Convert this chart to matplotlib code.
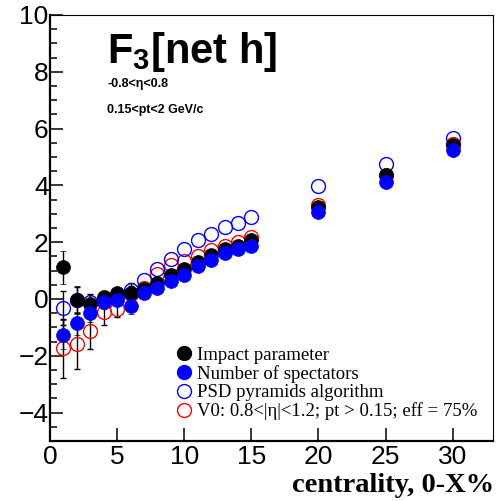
import matplotlib
matplotlib.use("Agg")
import matplotlib.pyplot as plt
import numpy as np
from matplotlib.ticker import MultipleLocator
from matplotlib.lines import Line2D

plt.rcParams['font.family'] = ['Liberation Sans', 'DejaVu Sans']
plt.rcParams['mathtext.fontset'] = 'custom'
plt.rcParams['mathtext.rm'] = 'Liberation Sans'
plt.rcParams['mathtext.bf'] = 'Liberation Sans:bold'

nan = float('nan')  # error bar hidden inside the marker (not readable)

centrality = [1, 2, 3, 4, 5, 6, 7, 8, 9, 10, 11, 12, 13, 14, 15, 20, 25, 30]

impact = [1.12, -0.03, -0.17, 0.06, 0.2, 0.2, 0.35, 0.55, 0.85, 1.05, 1.32, 1.55, 1.75, 1.87, 2.07, 3.25, 4.35, 5.42]
impact_err = [0.58, 0.5, 0.35, 0.22, 0.18, 0.15, 0.12, nan, nan, nan, nan, nan, nan, nan, nan, nan, nan, nan]

nspec = [-1.25, -0.86, -0.5, -0.1, -0.05, -0.23, 0.22, 0.38, 0.63, 0.85, 1.16, 1.39, 1.61, 1.75, 1.88, 3.05, 4.13, 5.24]
nspec_err = [0.5, 0.4, 0.3, 0.25, 0.2, 0.3, 0.12, nan, nan, nan, nan, nan, nan, nan, nan, nan, nan, nan]

psd = [-0.33, -0.03, -0.12, -0.03, 0.1, 0.31, 0.66, 1.04, 1.4, 1.77, 2.08, 2.28, 2.55, 2.68, 2.88, 3.98, 4.75, 5.66]
psd_err = [0.6, 0.45, 0.3, 0.3, 0.28, 0.26, nan, nan, nan, nan, nan, nan, nan, nan, nan, nan, nan, nan]

v0 = [-1.74, -1.6, -1.13, -0.45, -0.35, 0.18, 0.4, 0.88, 1.2, 1.33, 1.52, 1.73, 1.88, 2.0, 2.2, 3.3, 4.38, 5.46]
v0_err = [1.05, 0.85, 0.63, 0.47, 0.3, 0.28, nan, nan, nan, nan, nan, nan, nan, nan, nan, nan, nan, nan]

labels = ["Impact parameter", "Number of spectators", "PSD pyramids algorithm",
          "V0: 0.8<|\u03b7|<1.2; pt > 0.15; eff = 75%"]

fig = plt.figure(figsize=(4.97, 5.01), dpi=100)
ax = fig.add_axes([50/497, 60/501, 443/497, 426/501])

ms = 10
ekw = dict(ecolor='black', elinewidth=1.0, capsize=2, capthick=1.0, linestyle='none')
ax.errorbar(centrality, v0, yerr=np.array(v0_err), marker='o', ms=ms, mfc='none', mec='red', mew=1.0, **ekw, zorder=2)
ax.errorbar(centrality, psd, yerr=np.array(psd_err), marker='o', ms=ms, mfc='none', mec='blue', mew=1.0, **ekw, zorder=3)
ax.errorbar(centrality, impact, yerr=np.array(impact_err), marker='o', ms=ms, mfc='black', mec='black', mew=0.5, **ekw, zorder=4)
ax.errorbar(centrality, nspec, yerr=np.array(nspec_err), marker='o', ms=ms, mfc='blue', mec='blue', mew=0.5, **ekw, zorder=5)

ax.set_xlim(0, 33)
ax.set_ylim(-5, 10)
ax.xaxis.set_major_locator(MultipleLocator(5))
ax.yaxis.set_major_locator(MultipleLocator(2))
ax.yaxis.set_minor_locator(MultipleLocator(0.5))
ax.tick_params(axis='both', which='both', direction='in', top=False, right=False, labelsize=19, width=1.1)
ax.tick_params(axis='both', which='major', length=9.5)
ax.tick_params(axis='y', which='minor', length=5)
ax.tick_params(axis='y', pad=1)
ax.tick_params(axis='x', pad=3)
for s in ['left', 'bottom']:
    ax.spines[s].set_linewidth(1.6)
for s in ['top', 'right']:
    ax.spines[s].set_linewidth(0.8)

handles = [
    Line2D([], [], marker='o', ls='none', ms=ms, mfc='black', mec='black'),
    Line2D([], [], marker='o', ls='none', ms=ms, mfc='blue', mec='blue'),
    Line2D([], [], marker='o', ls='none', ms=ms, mfc='none', mec='blue', mew=1.0),
    Line2D([], [], marker='o', ls='none', ms=ms, mfc='none', mec='red', mew=1.0),
]
ax.legend(handles, labels, loc='upper left', bbox_to_anchor=(0.2845, 0.222), frameon=False,
          prop={'family': 'Liberation Serif', 'size': 13.5}, handlelength=0.8,
          handletextpad=0.3, labelspacing=0.07, borderaxespad=0, borderpad=0)

ax.text(0.1287, 0.8866, r"F$_{\mathbf{3}}$[net h]", transform=ax.transAxes, fontsize=30,
        fontweight='bold', va='baseline', ha='left')
ax.text(0.1287, 0.8317, "-0.8<\u03b7<0.8", transform=ax.transAxes, fontsize=9,
        fontweight='bold', va='baseline', ha='left')
ax.text(0.1287, 0.7707, "0.15<pt<2 GeV/c", transform=ax.transAxes, fontsize=9,
        fontweight='bold', va='baseline', ha='left')

fig.text(494/497, 9.3/501, "centrality, 0-X%", family='Liberation Serif', fontweight='bold',
         fontsize=20.5, ha='right', va='baseline')

fig.savefig("out.png", dpi=100)
